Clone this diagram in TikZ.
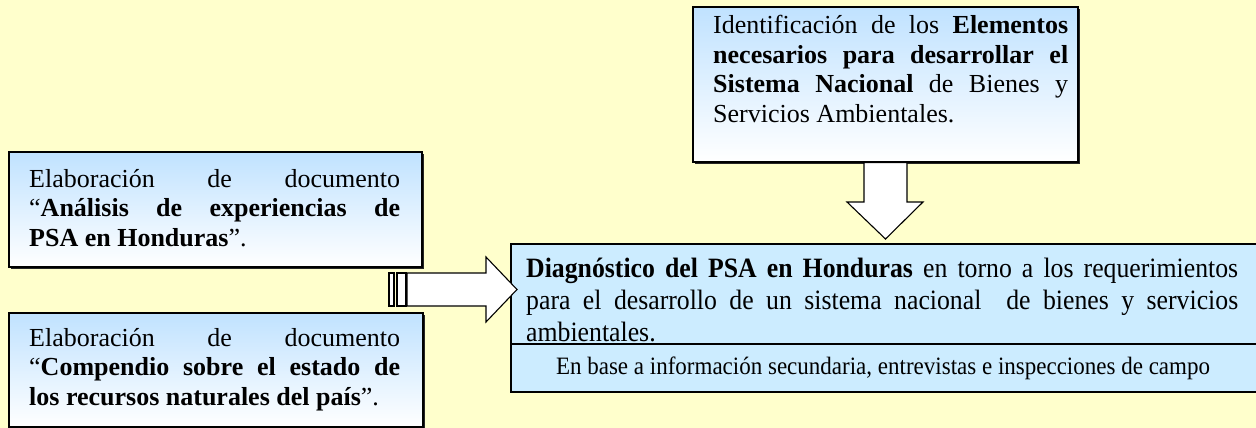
\documentclass[tikz,border=0pt]{standalone}
\usepackage{fontspec}
\setmainfont{Liberation Serif}
\newfontfamily\narrowserif{Liberation Serif}[FakeStretch=0.92]
\usetikzlibrary{positioning,calc,shadows}
\definecolor{paleyellow}{RGB}{255,255,204}
\definecolor{skyblue}{RGB}{204,236,255}
\definecolor{gradblue}{RGB}{192,226,255}
\hyphenpenalty=10000
\exhyphenpenalty=10000

\begin{document}
\begin{tikzpicture}[
					x=1pt, y=-1pt,
					% cajas con degradado (azul arriba, blanco abajo)
					gbox/.style={
						draw=black, line width=1.3pt, top color=gradblue, bottom color=white,
						inner sep=0pt, drop shadow={shadow xshift=1.6pt, shadow yshift=-1.6pt, opacity=1, fill=black!85}
					},
					% caja del diagnostico (azul plano)
					fbox/.style={
						draw=black, line width=1.3pt, fill=skyblue, inner sep=0pt
					},
					% texto justificado dentro de las cajas
					txt/.style={
						inner sep=0pt, anchor=north west, align=justify,
						font=\fontsize{26}{29.5}\selectfont
					},
					% flechas de bloque
					barrow/.style={draw=black, line width=1.1pt, fill=white, line join=miter}
					]
					
					% --- FONDO ---
					\useasboundingbox[fill=paleyellow] (0,0) rectangle (1256,428);
					
					% --- 1. CAJA SUPERIOR ---
					\node[gbox, minimum width=385, minimum height=155] (ident) at (885.5,84.5) {};
					\node[txt, text width=355] (identtxt) at (713,15)
					{Identificación de los \textbf{Elementos}\linebreak
						\textbf{necesarios para desarrollar el}\linebreak
						\textbf{Sistema Nacional} de Bienes y\linebreak
						Servicios Ambientales.};
					
					% --- 2. CAJAS IZQUIERDAS ---
					\node[gbox, minimum width=413, minimum height=115] (analisis) at (215.5,209.5) {};
					\node[txt, text width=371] (analisistxt) at (29,169)
					{Elaboración de documento\linebreak
						“\textbf{Análisis de experiencias de}\linebreak
						\textbf{PSA en Honduras}”.};
					
					\node[gbox, minimum width=414, minimum height=114] (compendio) at (216,370) {};
					\node[txt, text width=371] (compendiotxt) at (29,328)
					{Elaboración de documento\linebreak
						“\textbf{Compendio sobre el estado de}\linebreak
						\textbf{los recursos naturales del país}”.};
					
					% --- 3. CAJA DEL DIAGNOSTICO ---
					\node[fbox, minimum width=759, minimum height=100] (diag) at (890.5,294) {};
					\node[fbox, minimum width=759, minimum height=48,
					drop shadow={shadow xshift=1.4pt, shadow yshift=-1.4pt, opacity=1, fill=black!85}] (diagbase) at (890.5,368) {};
					\node[inner sep=0pt, font=\narrowserif\fontsize{25}{28}\selectfont] (diagbasetxt) at (883,368)
					{En base a información secundaria, entrevistas e inspecciones de campo};
					\node[txt, text width=712, font=\narrowserif\fontsize{28}{32}\selectfont] (diagtxt) at (526,258)
					{\textbf{Diagnóstico del PSA en Honduras} en torno a los requerimientos\linebreak
						para el desarrollo de un sistema nacional\ \ de bienes y servicios\linebreak
						ambientales.};
					
					% --- 4. FLECHAS DE BLOQUE ---
					% flecha hacia abajo
					\draw[barrow] (ident.south -| 864,0) -- (864,202) -- (847,202)
					-- (885.5,239) -- (923,202) -- (907,202) -- (ident.south -| 907,0) -- cycle;
					% flecha hacia la derecha con dos barras
					\draw[barrow] (389,273) rectangle (394,306);
					\draw[barrow] (397,273) rectangle (406,306);
					\draw[barrow] (407,273) -- (486,273) -- (486,257) -- (517,289.5)
					-- (486,322) -- (486,306) -- (407,306) -- cycle;
				\end{tikzpicture}
\end{document}
